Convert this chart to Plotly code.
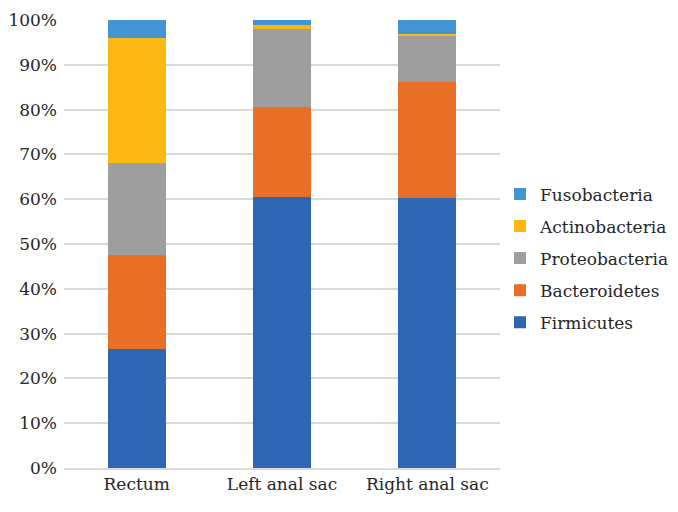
import plotly.graph_objects as go

categories = ["Rectum", "Left anal sac", "Right anal sac"]
firmicutes = [0.265, 0.604, 0.602]
bacteroidetes = [0.210, 0.201, 0.259]
proteobacteria = [0.206, 0.175, 0.104]
actinobacteria = [0.279, 0.009, 0.004]
fusobacteria = [0.040, 0.011, 0.031]

series = [
    ("Firmicutes", firmicutes, "#2E66B1"),
    ("Bacteroidetes", bacteroidetes, "#EA6F26"),
    ("Proteobacteria", proteobacteria, "#9E9E9E"),
    ("Actinobacteria", actinobacteria, "#FDB913"),
    ("Fusobacteria", fusobacteria, "#4394D2"),
]

font_family = "DejaVu Serif"
fs = 17

fig = go.Figure()
n = len(series)
for i, (name, vals, color) in enumerate(series):
    fig.add_trace(go.Bar(x=categories, y=vals, name=name, legendgroup=name,
                         legendrank=n - i,
                         marker=dict(color=color, line=dict(width=0)),
                         width=0.4))

fig.update_layout(
    width=678, height=512,
    barmode="stack",
    plot_bgcolor="white", paper_bgcolor="white",
    margin=dict(l=56, r=186, t=12, b=52, autoexpand=False),
    font=dict(family=font_family, size=fs, color="#262626"),
    showlegend=True,
    legend=dict(traceorder="grouped", tracegroupgap=7,
                x=1.0, xanchor="left", y=0.468, yanchor="middle",
                font=dict(family=font_family, size=fs, color="#262626"),
                itemwidth=30),
    xaxis=dict(showgrid=False, showline=True, linecolor="#D9D9D9", linewidth=1.5,
               ticks="", tickfont=dict(family=font_family, size=fs), automargin=False),
    yaxis=dict(range=[0, 1], dtick=0.1, tickformat=".0%", showgrid=True,
               gridcolor="#D9D9D9", gridwidth=1.5, zeroline=False, showline=False,
               ticks="", tickfont=dict(family=font_family, size=fs),
               ticklabelstandoff=6, automargin=False),
)

fig.write_html("out.html")
